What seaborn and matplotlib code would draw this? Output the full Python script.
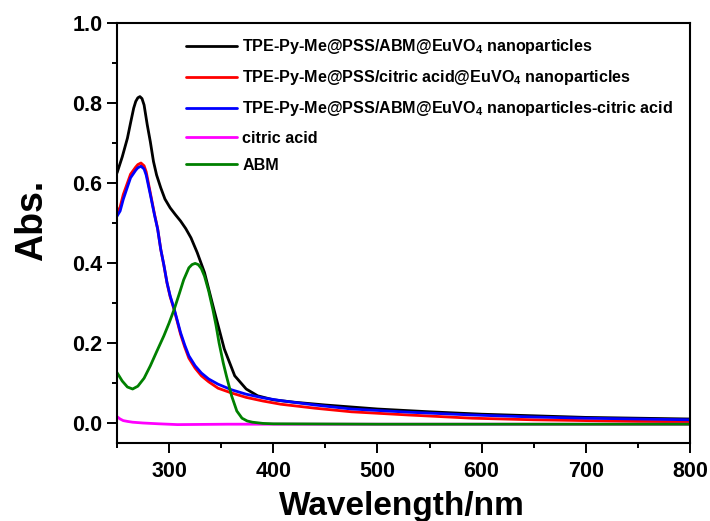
import matplotlib
matplotlib.use("Agg")
import matplotlib.pyplot as plt
import seaborn as sns
from matplotlib.ticker import MultipleLocator, FormatStrFormatter

# ---- data ----
labels = [
    "TPE-Py-Me@PSS/ABM@EuVO$_4$ nanoparticles",
    "TPE-Py-Me@PSS/citric acid@EuVO$_4$ nanoparticles",
    "TPE-Py-Me@PSS/ABM@EuVO$_4$ nanoparticles-citric acid",
    "citric acid",
    "ABM",
]
colors = ["#000000", "#ff0000", "#0000ff", "#ff00ff", "#008000"]

black_x = [250, 255, 260, 263, 266, 268, 270, 272, 274, 276, 279, 282, 285, 288, 292, 296,
           301, 306, 311, 316, 321, 327, 334, 343, 353, 363, 374, 385, 400, 420, 450, 500,
           550, 600, 650, 700, 750, 800]
black_y = [0.625, 0.665, 0.712, 0.750, 0.787, 0.804, 0.813, 0.816, 0.811, 0.795, 0.746,
           0.703, 0.654, 0.620, 0.588, 0.560, 0.538, 0.521, 0.505, 0.486, 0.463, 0.426,
           0.376, 0.284, 0.185, 0.118, 0.085, 0.068, 0.058, 0.052, 0.045, 0.035, 0.028,
           0.022, 0.018, 0.014, 0.012, 0.010]

red_x = [250, 253, 256, 260, 263, 268, 270, 273, 276, 278, 282, 286, 289, 292, 295, 298,
         301, 305, 308, 311, 315, 319, 325, 331, 338, 347, 360, 374, 390, 407, 440, 475,
         530, 591, 650, 700, 750, 800]
red_y = [0.525, 0.540, 0.571, 0.600, 0.622, 0.640, 0.646, 0.650, 0.643, 0.628, 0.575,
         0.522, 0.486, 0.434, 0.394, 0.350, 0.316, 0.282, 0.252, 0.222, 0.190, 0.162,
         0.137, 0.118, 0.103, 0.087, 0.075, 0.064, 0.055, 0.047, 0.037, 0.028, 0.020,
         0.012, 0.008, 0.006, 0.004, 0.003]

blue_x = [250, 253, 256, 260, 263, 268, 270, 273, 276, 278, 282, 286, 289, 292, 295, 298,
          301, 305, 308, 311, 315, 319, 325, 331, 338, 347, 360, 374, 390, 407, 440, 475,
          530, 591, 650, 700, 750, 800]
blue_y = [0.517, 0.530, 0.559, 0.590, 0.613, 0.632, 0.638, 0.642, 0.635, 0.620, 0.571,
          0.520, 0.485, 0.434, 0.395, 0.351, 0.318, 0.284, 0.255, 0.226, 0.195, 0.168,
          0.143, 0.125, 0.110, 0.097, 0.083, 0.072, 0.063, 0.056, 0.045, 0.035, 0.027,
          0.020, 0.015, 0.012, 0.010, 0.008]

magenta_x = [250, 253, 256, 260, 265, 275, 290, 308, 356, 400, 500, 600, 700, 800]
magenta_y = [0.016, 0.010, 0.006, 0.004, 0.002, 0.000, -0.002, -0.004, -0.003, -0.003,
             -0.003, -0.003, -0.003, -0.003]

green_x = [250, 255, 260, 265, 270, 276, 282, 288, 295, 300, 305, 310, 314, 319, 322, 325,
           328, 331, 334, 338, 342, 345, 348, 352, 355, 360, 365, 370, 375, 380, 390, 400,
           500, 600, 700, 800]
green_y = [0.126, 0.105, 0.090, 0.085, 0.092, 0.112, 0.143, 0.178, 0.218, 0.250, 0.285,
           0.325, 0.358, 0.388, 0.396, 0.399, 0.396, 0.386, 0.367, 0.330, 0.284, 0.245,
           0.200, 0.150, 0.118, 0.068, 0.030, 0.012, 0.005, 0.002, -0.001, -0.002, -0.003,
           -0.003, -0.003, -0.003]

x_major = [300, 400, 500, 600, 700, 800]
y_major = [0.0, 0.2, 0.4, 0.6, 0.8, 1.0]

# ---- style ----
sns.set_style("ticks")
plt.rcParams["font.family"] = ["Liberation Sans", "DejaVu Sans"]
plt.rcParams["font.weight"] = "bold"
plt.rcParams["text.color"] = "black"
plt.rcParams["axes.labelcolor"] = "black"
plt.rcParams["xtick.color"] = "black"
plt.rcParams["ytick.color"] = "black"
plt.rcParams["mathtext.fontset"] = "custom"
plt.rcParams["mathtext.bf"] = "Liberation Sans:bold"
plt.rcParams["mathtext.rm"] = "Liberation Sans:bold"
plt.rcParams["mathtext.default"] = "bf"

fig = plt.figure(figsize=(7.1, 5.21), dpi=100)
fig.patch.set_facecolor("white")
ax = fig.add_axes([117 / 710, 78 / 521, 573 / 710, 420 / 521])
ax.set_facecolor("white")

series = [(black_x, black_y), (red_x, red_y), (blue_x, blue_y),
          (magenta_x, magenta_y), (green_x, green_y)]
for (xs, ys), lab, col in zip(series, labels, colors):
    sns.lineplot(x=xs, y=ys, color=col, linewidth=2.0, label=lab, ax=ax)

ax.set_xlim(250, 800)
ax.set_ylim(-0.05, 1.0)
ax.set_xticks(x_major)
ax.set_yticks(y_major)
ax.xaxis.set_minor_locator(MultipleLocator(50))
ax.yaxis.set_minor_locator(MultipleLocator(0.1))
ax.yaxis.set_major_formatter(FormatStrFormatter("%.1f"))

for s in ax.spines.values():
    s.set_visible(True)
    s.set_linewidth(1.5)
    s.set_color("black")

ax.tick_params(axis="both", which="major", direction="out", length=7, width=1.4,
               labelsize=15.5, colors="black", top=False, right=False)
ax.tick_params(axis="y", which="major", pad=3.6)
ax.tick_params(axis="x", which="major", pad=6.0)
ax.tick_params(axis="both", which="minor", direction="out", length=3.8, width=1.4,
               top=False, right=False)
for t in ax.get_xticklabels() + ax.get_yticklabels():
    t.set_fontweight("bold")

ax.set_xlabel("Wavelength/nm", fontsize=24, fontweight="bold", color="black")
ax.set_ylabel("Abs.", fontsize=27, fontweight="bold", color="black")
ax.xaxis.set_label_coords(0.497, -0.15)
ax.xaxis.label.set_va("center")
ax.yaxis.set_label_coords(-0.149, 0.529)
ax.yaxis.label.set_va("center")

leg = ax.legend(loc="upper left", bbox_to_anchor=(0.121, 0.966), frameon=False,
                fontsize=11.6, handlelength=3.17, handletextpad=0.31,
                labelspacing=0.75, borderaxespad=0, borderpad=0)
for t in leg.get_texts():
    t.set_fontweight("bold")
    t.set_color("black")
for l in leg.get_lines():
    l.set_linewidth(2.0)

fig.savefig("out.png", dpi=100, facecolor="white")
